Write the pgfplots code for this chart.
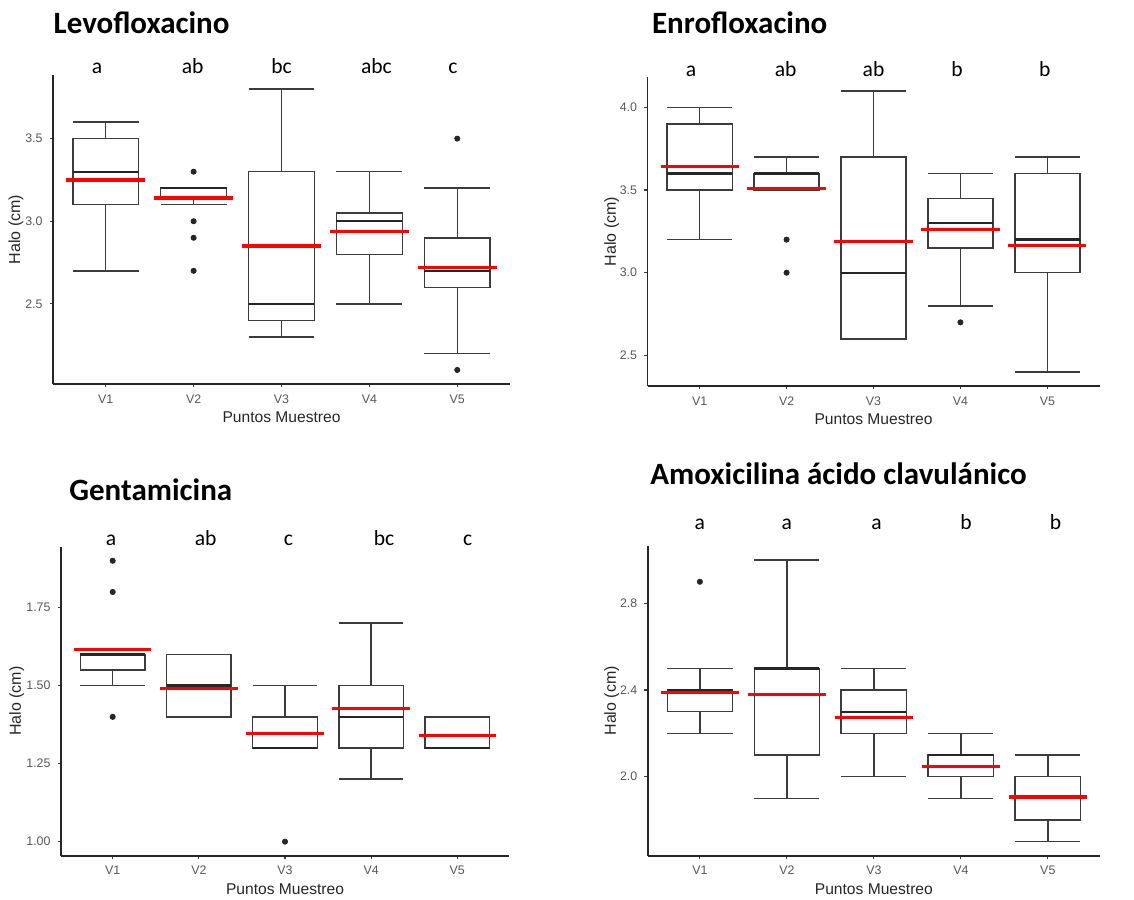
\documentclass[border=0pt]{standalone}
\usepackage{fontspec}
\setmainfont{Liberation Sans}
\newfontfamily\calibri{Carlito}
\usepackage{pgfplots}
\pgfplotsset{compat=1.18}
\usepgfplotslibrary{statistics}

\definecolor{boxgrey}{HTML}{3C3C3C}
\definecolor{ticktext}{HTML}{575757}

% one box from its five statistics
\newcommand{\bx}[6]{%
  \addplot[boxgrey, line width=0.75pt,
    boxplot/draw direction=y,
    boxplot prepared={draw position=#1, lower whisker=#2, lower quartile=#3,
      median=#4, upper quartile=#5, upper whisker=#6}] coordinates {};}

\pgfplotsset{
  panel/.style={
    scale only axis,
    xmin=0.4, xmax=5.6,
    axis lines*=left,
    axis line style={black!85, line width=0.8pt},
    tick align=outside,
    major tick length=1.7pt,
    tick style={boxgrey, line width=0.6pt},
    xtick={1,2,3,4,5},
    xticklabels={V1,V2,V3,V4,V5},
    ticklabel style={font=\fontsize{6.2}{7}\selectfont, text=ticktext},
    xlabel={Puntos Muestreo},
    ylabel={Halo (cm)},
    xlabel style={at={(rel axis cs:0.5,-0.108)}, anchor=center,
      font=\fontsize{7.8}{9}\selectfont, text=black!85},
    ylabel style={anchor=center, font=\fontsize{8}{9}\selectfont, text=black!85},
    clip=false,
    boxplot/draw direction=y,
    boxplot/box extend=0.75,
    boxplot/whisker extend=0.75,
    boxplot/every box/.style={draw=boxgrey, line width=0.75pt},
    boxplot/every whisker/.style={draw=boxgrey, line width=0.75pt},
    boxplot/every median/.style={draw=black!85, line width=1.15pt},
  },
  mean/.style={red, line width=1.65pt},
  outl/.style={only marks, mark=*, mark size=1.3pt, black!85},
}

\tikzset{
  ttl/.style={anchor=base west, inner sep=0pt, font=\calibri\bfseries\fontsize{15.5}{18}\selectfont},
  letter/.style={anchor=base, inner sep=0pt, font=\calibri\fontsize{10.8}{12}\selectfont},
}

\begin{document}
\begin{tikzpicture}
\useasboundingbox (0,0) rectangle (567pt,-449.5pt);

% ---------------- Levofloxacino ----------------
\node[ttl] at (26.65pt,-16.65pt) {Levofloxacino};
\begin{axis}[panel, at={(26.5pt,-192pt)}, anchor=south west,
    width=228.5pt, height=154.5pt,
    ymin=2.015, ymax=3.885,
    ytick={2.5,3.0,3.5}, yticklabels={2.5,3.0,3.5},
    ylabel style={at={(rel axis cs:-0.081,0.5)}}]
  \bx{1}{2.7}{3.1}{3.3}{3.5}{3.6}
  \bx{2}{3.1}{3.15}{3.2}{3.2}{3.2}
  \bx{3}{2.3}{2.4}{2.5}{3.3}{3.8}
  \bx{4}{2.5}{2.8}{3.0}{3.05}{3.3}
  \bx{5}{2.2}{2.6}{2.7}{2.9}{3.2}
  \addplot[outl] coordinates {(2,3.3) (2,3.0) (2,2.9) (2,2.7) (5,3.5) (5,2.1)};
  \addplot[mean] coordinates {(0.55,3.25) (1.45,3.25)};
  \addplot[mean] coordinates {(1.55,3.14) (2.45,3.14)};
  \addplot[mean] coordinates {(2.55,2.85) (3.45,2.85)};
  \addplot[mean] coordinates {(3.55,2.94) (4.45,2.94)};
  \addplot[mean] coordinates {(4.55,2.72) (5.45,2.72)};
  \node[letter] at (axis cs:0.9,3.895) {a};
  \node[letter] at (axis cs:1.99,3.895) {ab};
  \node[letter] at (axis cs:3.0,3.895) {bc};
  \node[letter] at (axis cs:4.08,3.895) {abc};
  \node[letter] at (axis cs:4.95,3.895) {c};
\end{axis}

% ---------------- Enrofloxacino ----------------
\node[ttl] at (325.85pt,-16.65pt) {Enrofloxacino};
\begin{axis}[panel, at={(323.75pt,-193pt)}, anchor=south west,
    width=226pt, height=154.65pt,
    ymin=2.315, ymax=4.185,
    ytick={2.5,3.0,3.5,4.0}, yticklabels={2.5,3.0,3.5,4.0},
    ylabel style={at={(rel axis cs:-0.079,0.5)}}]
  \bx{1}{3.2}{3.5}{3.6}{3.9}{4.0}
  \bx{2}{3.5}{3.5}{3.6}{3.6}{3.7}
  \bx{3}{2.6}{2.6}{3.0}{3.7}{4.1}
  \bx{4}{2.8}{3.15}{3.3}{3.45}{3.6}
  \bx{5}{2.4}{3.0}{3.2}{3.6}{3.7}
  \addplot[outl] coordinates {(2,3.2) (2,3.0) (4,2.7)};
  \addplot[mean] coordinates {(0.55,3.64) (1.45,3.64)};
  \addplot[mean] coordinates {(1.55,3.51) (2.45,3.51)};
  \addplot[mean] coordinates {(2.55,3.19) (3.45,3.19)};
  \addplot[mean] coordinates {(3.55,3.26) (4.45,3.26)};
  \addplot[mean] coordinates {(4.55,3.165) (5.45,3.165)};
  \node[letter] at (axis cs:0.9,4.189) {a};
  \node[letter] at (axis cs:1.99,4.189) {ab};
  \node[letter] at (axis cs:3.0,4.189) {ab};
  \node[letter] at (axis cs:3.96,4.189) {b};
  \node[letter] at (axis cs:4.97,4.189) {b};
\end{axis}

% ---------------- Gentamicina ----------------
\node[ttl] at (34.5pt,-250.35pt) {Gentamicina};
\begin{axis}[panel, at={(30.5pt,-427.85pt)}, anchor=south west,
    width=224pt, height=154.5pt,
    ymin=0.955, ymax=1.945,
    ytick={1.00,1.25,1.50,1.75}, yticklabels={1.00,1.25,1.50,1.75},
    ylabel style={at={(rel axis cs:-0.099,0.5)}}]
  \bx{1}{1.5}{1.55}{1.6}{1.6}{1.6}
  \bx{2}{1.4}{1.4}{1.5}{1.6}{1.6}
  \bx{3}{1.3}{1.3}{1.3}{1.4}{1.5}
  \bx{4}{1.2}{1.3}{1.4}{1.5}{1.7}
  \bx{5}{1.3}{1.3}{1.3}{1.4}{1.4}
  \addplot[outl] coordinates {(1,1.9) (1,1.8) (1,1.4) (3,1.0)};
  \addplot[mean] coordinates {(0.55,1.615) (1.45,1.615)};
  \addplot[mean] coordinates {(1.55,1.49) (2.45,1.49)};
  \addplot[mean] coordinates {(2.55,1.347) (3.45,1.347)};
  \addplot[mean] coordinates {(3.55,1.427) (4.45,1.427)};
  \addplot[mean] coordinates {(4.55,1.34) (5.45,1.34)};
  \node[letter] at (axis cs:0.98,1.9504) {a};
  \node[letter] at (axis cs:2.08,1.9504) {ab};
  \node[letter] at (axis cs:3.04,1.9504) {c};
  \node[letter] at (axis cs:4.15,1.9504) {bc};
  \node[letter] at (axis cs:5.12,1.9504) {c};
\end{axis}

% ---------------- Amoxicilina ácido clavulánico ----------------
\node[ttl] at (325pt,-242pt) {Amoxicilina ácido clavulánico};
\begin{axis}[panel, at={(323.85pt,-427.85pt)}, anchor=south west,
    width=226.15pt, height=154.85pt,
    ymin=1.635, ymax=3.065,
    ytick={2.0,2.4,2.8}, yticklabels={2.0,2.4,2.8},
    ylabel style={at={(rel axis cs:-0.0796,0.5)}}]
  \bx{1}{2.2}{2.3}{2.4}{2.4}{2.5}
  \bx{2}{1.9}{2.1}{2.5}{2.5}{3.0}
  \bx{3}{2.0}{2.2}{2.3}{2.4}{2.5}
  \bx{4}{1.9}{2.0}{2.1}{2.1}{2.2}
  \bx{5}{1.7}{1.8}{1.9}{2.0}{2.1}
  \addplot[outl] coordinates {(1,2.9)};
  \addplot[mean] coordinates {(0.55,2.39) (1.45,2.39)};
  \addplot[mean] coordinates {(1.55,2.378) (2.45,2.378)};
  \addplot[mean] coordinates {(2.55,2.274) (3.45,2.274)};
  \addplot[mean] coordinates {(3.55,2.048) (4.45,2.048)};
  \addplot[mean] coordinates {(4.55,1.906) (5.45,1.906)};
  \node[letter] at (axis cs:1.0,3.139) {a};
  \node[letter] at (axis cs:2.0,3.139) {a};
  \node[letter] at (axis cs:3.03,3.139) {a};
  \node[letter] at (axis cs:4.06,3.139) {b};
  \node[letter] at (axis cs:5.09,3.139) {b};
\end{axis}
\end{tikzpicture}
\end{document}
